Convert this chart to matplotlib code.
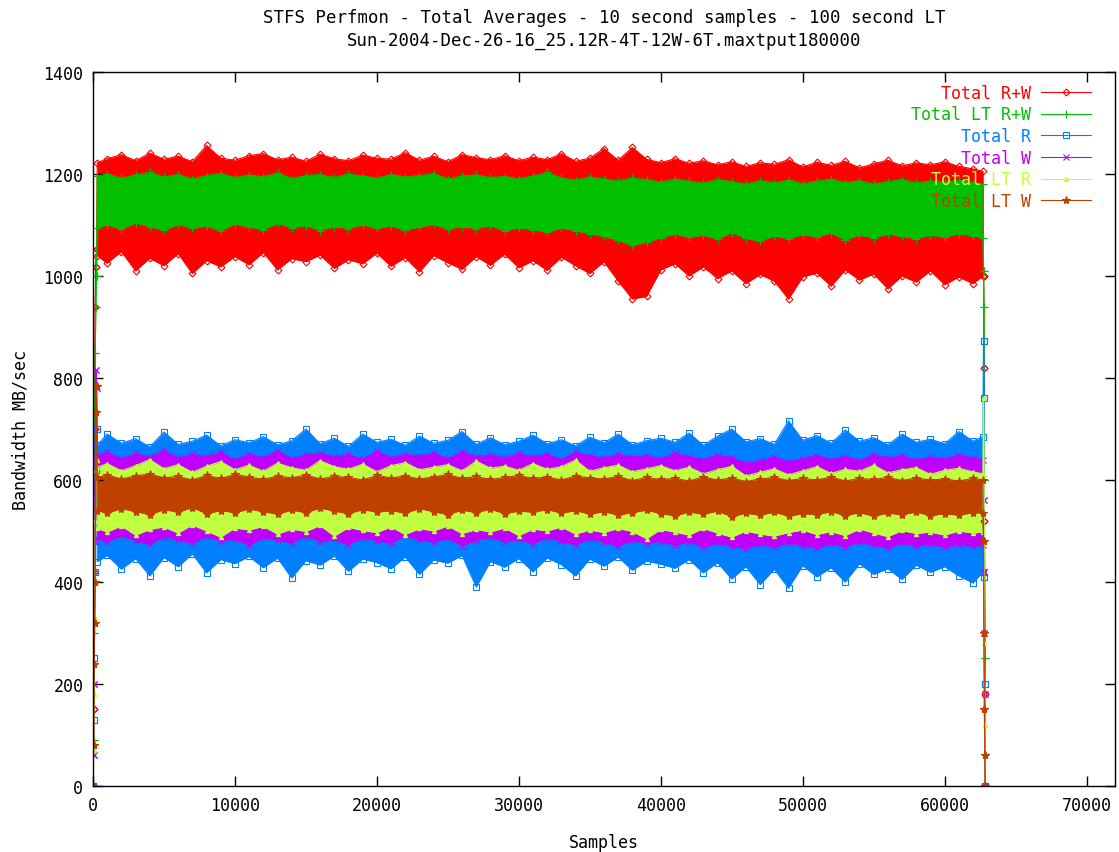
import matplotlib

matplotlib.use("Agg")
import matplotlib.pyplot as plt

TITLE = "STFS Perfmon - Total Averages - 10 second samples - 100 second LT\nSun-2004-Dec-26-16_25.12R-4T-12W-6T.maxtput180000"

# sample numbers where the band envelope was taken (every 1000 samples)
BAND_X = [300] + list(range(1000, 62001, 1000)) + [62700]
# ramp up at the start of the run and drop at the end
START_X = [0, 40, 80, 120, 160, 200, 250]
END_X = [62740, 62770, 62800, 62830, 62860]

# Total R+W
RW_HI = [1222, 1230, 1238, 1226, 1241, 1229, 1235, 1224, 1256, 1231, 1227,
         1236, 1240, 1228, 1233, 1225, 1239, 1230, 1226, 1237, 1231,
         1229, 1242, 1227, 1235, 1224, 1238, 1232, 1228, 1236, 1226,
         1233, 1228, 1240, 1225, 1231, 1250, 1227, 1252, 1229, 1222,
         1230, 1221, 1226, 1218, 1224, 1215, 1222, 1219, 1228, 1214,
         1223, 1217, 1225, 1212, 1220, 1227, 1216, 1222, 1218, 1224, 1215, 1210,
         1205]
RW_LO = [1040, 1025, 1048, 1010, 1035, 1020, 1044, 1005, 1030, 1018, 1038,
         1022, 1046, 1012, 1034, 1028, 1041, 1015, 1032, 1024, 1045,
         1019, 1036, 1008, 1040, 1026, 1013, 1038, 1021, 1043, 1016,
         1030, 1011, 1037, 1020, 1005, 1028, 990, 955, 960, 1012,
         1024, 1000, 1018, 995, 1010, 985, 1003, 990, 955, 998,
         1006, 980, 1012, 992, 1004, 975, 1000, 988, 1010, 983, 998, 985,
         1000]
RW_START = [0, 150, 420, 700, 940, 1018, 1053]
RW_END = [1000, 820, 520, 180, 0]

# Total LT R+W
GL_HI = [1196, 1200, 1192, 1198, 1203, 1194, 1199, 1190, 1197, 1201, 1193,
         1198, 1195, 1202, 1191, 1197, 1199, 1193, 1200, 1196, 1192,
         1199, 1194, 1197, 1201, 1190, 1196, 1198, 1193, 1195, 1191,
         1196, 1203, 1192, 1188, 1194, 1190, 1186, 1192, 1189, 1184,
         1190, 1186, 1182, 1189, 1185, 1180, 1187, 1183, 1188, 1181,
         1186, 1190, 1183, 1187, 1180, 1185, 1189, 1182, 1186, 1184, 1188, 1183,
         1180]
GL_LO = [1095, 1100, 1092, 1104, 1097, 1090, 1101, 1094, 1098, 1088, 1102,
         1096, 1091, 1103, 1095, 1099, 1089, 1097, 1093, 1100, 1094,
         1098, 1090, 1096, 1101, 1092, 1097, 1093, 1099, 1088, 1095,
         1091, 1086, 1094, 1089, 1083, 1078, 1070, 1060, 1066, 1075,
         1082, 1076, 1080, 1072, 1085, 1074, 1068, 1079, 1073, 1081,
         1077, 1084, 1071, 1080, 1075, 1082, 1078, 1073, 1080, 1076, 1083, 1079,
         1075]
GL_START = [0, 90, 300, 560, 850, 940, 1000]
GL_END = [1010, 940, 600, 250, 0]

# Total R
R_HI = [668, 690, 672, 681, 665, 694, 670, 676, 688, 667, 679,
        673, 685, 669, 677, 700, 671, 682, 666, 690, 674,
        680, 668, 686, 672, 678, 695, 670, 683, 669, 676,
        688, 671, 679, 667, 684, 673, 690, 669, 677, 682,
        674, 692, 668, 686, 700, 675, 681, 670, 716, 678,
        687, 672, 698, 676, 683, 669, 690, 674, 680, 671, 695, 676,
        685]
R_LO = [440, 452, 425, 446, 412, 448, 430, 455, 418, 444, 436,
        450, 428, 447, 408, 442, 433, 451, 421, 445, 438,
        426, 449, 415, 443, 437, 452, 390, 440, 429, 446,
        420, 447, 434, 412, 445, 431, 449, 423, 441, 435,
        427, 444, 418, 438, 406, 430, 395, 425, 388, 432,
        410, 428, 400, 436, 415, 426, 405, 433, 419, 430, 412, 398,
        420]
R_START = [0, 130, 250, 420, 480, 620, 700]
R_END = [872, 760, 410, 200, 0]

# Total W
W_HI = [648, 655, 641, 652, 645, 658, 643, 650, 646, 654, 640,
        651, 644, 657, 642, 649, 653, 645, 650, 641, 656,
        644, 650, 647, 653, 642, 655, 646, 649, 643, 652,
        645, 651, 640, 654, 647, 643, 650, 645, 648, 641,
        652, 646, 640, 649, 644, 633, 638, 645, 636, 642,
        648, 640, 646, 638, 650, 643, 647, 639, 645, 641, 649, 643,
        640]
W_LO = [486, 478, 492, 481, 474, 489, 483, 476, 490, 480, 485,
        472, 488, 482, 477, 491, 479, 484, 473, 487, 481,
        476, 490, 483, 478, 486, 471, 482, 488, 479, 484,
        475, 487, 480, 473, 485, 478, 470, 482, 476, 480,
        472, 479, 468, 476, 470, 465, 474, 468, 477, 471,
        466, 475, 469, 478, 472, 467, 476, 470, 474, 468, 473, 470,
        472]
W_START = [0, 60, 200, 480, 640, 815, 780]
W_END = [560, 420, 300, 180, 0]

# Total LT R
LR_HI = [625, 632, 618, 628, 640, 622, 630, 615, 627, 636, 620,
         629, 617, 633, 624, 619, 638, 626, 621, 631, 616,
         628, 634, 620, 625, 630, 618, 637, 623, 627, 619,
         632, 621, 626, 639, 617, 624, 629, 616, 622, 628,
         618, 625, 612, 620, 627, 608, 615, 622, 610, 618,
         626, 613, 621, 617, 629, 614, 620, 624, 611, 619, 623, 616,
         612]
LR_LO = [505, 498, 510, 492, 503, 508, 496, 512, 500, 488, 506,
         502, 509, 494, 504, 499, 511, 490, 507, 501, 497,
         508, 493, 505, 500, 510, 495, 503, 498, 506, 491,
         504, 500, 508, 494, 502, 497, 505, 499, 485, 503,
         498, 492, 505, 496, 488, 500, 494, 490, 497, 502,
         493, 499, 491, 504, 496, 489, 501, 495, 498, 492, 500, 496,
         498]
LR_START = [0, 70, 180, 330, 520, 620, 640]
LR_END = [760, 610, 280, 120, 0]

# Total LT W
LW_HI = [605, 610, 602, 608, 612, 604, 607, 600, 609, 603, 611,
         606, 601, 608, 604, 610, 602, 607, 605, 600, 609,
         604, 608, 602, 606, 611, 603, 607, 601, 605, 609,
         603, 606, 600, 608, 604, 602, 607, 599, 605, 601,
         603, 598, 606, 600, 604, 597, 602, 605, 599, 603,
         600, 606, 598, 603, 601, 605, 599, 604, 600, 602, 598, 603,
         600]
LW_LO = [540, 535, 544, 538, 532, 542, 537, 546, 534, 540, 536,
         543, 538, 533, 541, 536, 545, 539, 534, 542, 537,
         540, 535, 544, 538, 532, 541, 536, 543, 534, 539,
         537, 542, 535, 540, 533, 538, 531, 536, 541, 534,
         530, 537, 533, 539, 528, 535, 531, 537, 529, 534,
         532, 538, 530, 536, 529, 535, 532, 537, 530, 534, 531, 536,
         535]
LW_START = [0, 80, 240, 320, 400, 733, 784]
LW_END = [480, 300, 150, 60, 0]

# gnuplot png terminal colours / point types
SERIES = [
    ("Total R+W", RW_START, RW_HI, RW_LO, RW_END, "#ff0000", "D", 3.5),
    ("Total LT R+W", GL_START, GL_HI, GL_LO, GL_END, "#00c000", "+", 6),
    ("Total R", R_START, R_HI, R_LO, R_END, "#0080ff", "s", 5),
    ("Total W", W_START, W_HI, W_LO, W_END, "#c000ff", "x", 5),
    ("Total LT R", LR_START, LR_HI, LR_LO, LR_END, "#c0ff40", "^", 3),
    ("Total LT W", LW_START, LW_HI, LW_LO, LW_END, "#c04000", "*", 6),
]

FONT = "DejaVu Sans Mono"


def draw_series(ax, label, start, hi, lo, end, color, marker, ms):
    xs = START_X + BAND_X + END_X
    upper = start + hi + end
    lower = start + lo + end
    ax.fill_between(xs, lower, upper, color=color, lw=0)
    style = dict(color=color, lw=0.8, marker=marker, ms=ms, mew=0.8)
    if marker in ("D", "s"):
        style["mfc"] = "none"
    ax.plot(xs, upper, label=label, **style)
    ax.plot(xs, lower, **style)


def main():
    plt.rcParams["font.family"] = [FONT]
    fig = plt.figure(figsize=(11.19, 8.53), dpi=100)
    ax = fig.add_axes([0.0831, 0.0774, 0.9133, 0.837])

    for s in SERIES:
        draw_series(ax, *s)

    ax.set_xlim(0, 72000)
    ax.set_ylim(0, 1400)
    ax.set_xticks(range(0, 70001, 10000))
    ax.set_yticks(range(0, 1401, 200))
    ax.tick_params(direction="in", length=7, width=1, top=True, right=True,
                   labelsize=12, pad=7)
    for sp in ax.spines.values():
        sp.set_linewidth(1)

    ax.set_xlabel("Samples", fontsize=12, labelpad=14)
    ax.set_ylabel("Bandwidth MB/sec", fontsize=12, labelpad=10)
    fig.text(0.54, 0.99, TITLE, ha="center", va="top", fontsize=12.5,
             linespacing=1.35)

    ax.legend(loc="upper right", bbox_to_anchor=(0.988, 1.0), frameon=False,
              markerfirst=False, labelcolor="linecolor", fontsize=12,
              handlelength=3.0, handletextpad=0.6, labelspacing=0.22,
              borderpad=0.2)

    fig.savefig("out.png", dpi=100)
    plt.close(fig)


if __name__ == "__main__":
    main()
